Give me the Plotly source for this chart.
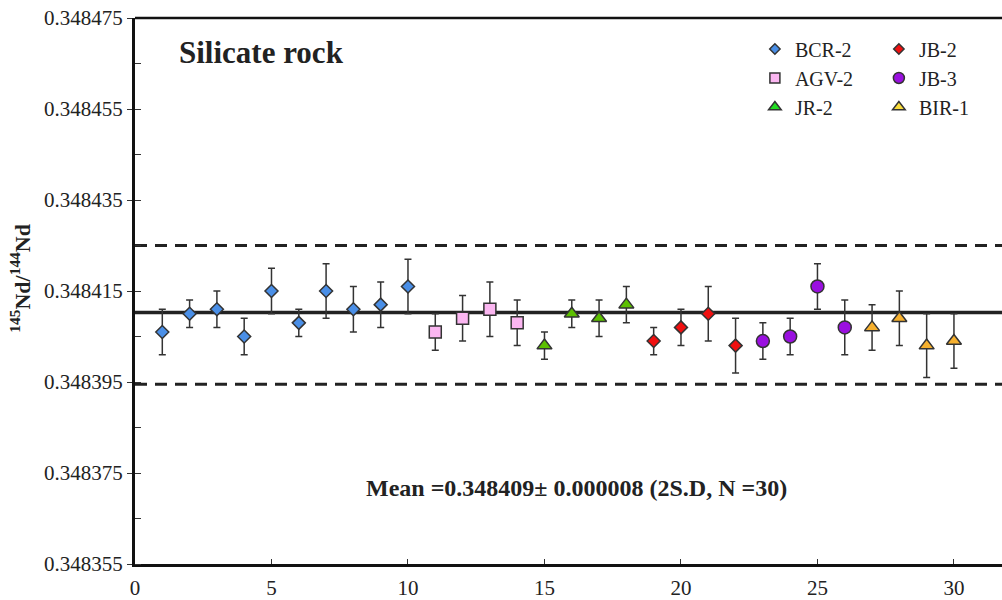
import plotly.graph_objects as go

# ---- data ----
bcr2_x = [1, 2, 3, 4, 5, 6, 7, 8, 9, 10]
bcr2_y = [0.348406, 0.348410, 0.348411, 0.348405, 0.348415, 0.348408, 0.348415, 0.348411, 0.348412, 0.348416]
bcr2_err = [5, 3, 4, 4, 5, 3, 6, 5, 5, 6]

agv2_x = [11, 12, 13, 14]
agv2_y = [0.348406, 0.348409, 0.348411, 0.348408]
agv2_err = [4, 5, 6, 5]

jr2_x = [15, 16, 17, 18]
jr2_y = [0.348403, 0.348410, 0.348409, 0.348412]
jr2_err = [3, 3, 4, 4]

jb2_x = [19, 20, 21, 22]
jb2_y = [0.348404, 0.348407, 0.348410, 0.348403]
jb2_err = [3, 4, 6, 6]

jb3_x = [23, 24, 25, 26]
jb3_y = [0.348404, 0.348405, 0.348416, 0.348407]
jb3_err = [4, 4, 5, 6]

bir1_x = [27, 28, 29, 30]
bir1_y = [0.348407, 0.348409, 0.348403, 0.348404]
bir1_err = [5, 6, 7, 6]

err_unit = 1e-6
mean_value = 0.3484103
upper_limit = 0.348425
lower_limit = 0.3483945

y_ticks = [0.348355, 0.348375, 0.348395, 0.348415, 0.348435, 0.348455, 0.348475]
x_ticks = [0, 5, 10, 15, 20, 25, 30]

SERIF = "Liberation Serif"
EDGE = "#333333"

series = [
    ("BCR-2", bcr2_x, bcr2_y, bcr2_err, "diamond", 10, "#4a8fe7", "#4a8fe7", 8, "legend"),
    ("AGV-2", agv2_x, agv2_y, agv2_err, "square", 12, "#fbb6f1", "#fbb6f1", 10, "legend"),
    ("JR-2", jr2_x, jr2_y, jr2_err, "triangle-up", 13, "#5cc000", "#22dd22", 11, "legend"),
    ("JB-2", jb2_x, jb2_y, jb2_err, "diamond", 10, "#f01010", "#f01010", 8, "legend2"),
    ("JB-3", jb3_x, jb3_y, jb3_err, "circle", 13, "#9a10e0", "#9a10e0", 11, "legend2"),
    ("BIR-1", bir1_x, bir1_y, bir1_err, "triangle-up", 13, "#f6b02e", "#f9dc3a", 11, "legend2"),
]

fig = go.Figure()

for name, xs, ys, errs, sym, size, color, lcolor, lsize, leg in series:
    fig.add_trace(go.Scatter(
        x=xs, y=ys, mode="markers", name=name, showlegend=False,
        marker=dict(symbol=sym, size=size, color=color, line=dict(color=EDGE, width=1.5)),
        error_y=dict(type="data", array=[e * err_unit for e in errs], color=EDGE,
                     thickness=1.5, width=3.5),
    ))

for name, xs, ys, errs, sym, size, color, lcolor, lsize, leg in series:
    fig.add_trace(go.Scatter(
        x=[None], y=[None], mode="markers", name=name, showlegend=True, legend=leg,
        legendgroup=name,
        marker=dict(symbol=sym, size=lsize, color=lcolor, line=dict(color=EDGE, width=1.5)),
    ))

# reference lines
fig.add_shape(type="line", xref="paper", x0=0, x1=1, yref="y", y0=mean_value, y1=mean_value,
              line=dict(color="#222222", width=3.5), layer="below")
for lim in (upper_limit, lower_limit):
    fig.add_shape(type="line", xref="paper", x0=0, x1=1, yref="y", y0=lim, y1=lim,
                  line=dict(color="#222222", width=3, dash="12px,8px"), layer="below")
# top frame line
fig.add_shape(type="line", xref="paper", yref="paper", x0=0, x1=1, y0=1, y1=1,
              line=dict(color="#111111", width=2.5))

fig.add_annotation(text="<b>Silicate rock</b>", xref="paper", yref="paper",
                   x=0.0484, y=0.937, xanchor="left", yanchor="middle", showarrow=False,
                   font=dict(family=SERIF, size=31, color="#222222"))
fig.add_annotation(text="<b>Mean =0.348409± 0.000008 (2S.D, N =30)</b>", xref="paper", yref="paper",
                   x=0.5098, y=0.139, xanchor="center", yanchor="middle", showarrow=False,
                   font=dict(family=SERIF, size=24, color="#222222"))
fig.add_annotation(text="<b><sup>145</sup>Nd/<sup>144</sup>Nd</b>", xref="paper", yref="paper",
                   x=-0.1326, y=0.5227, xanchor="center", yanchor="middle", showarrow=False,
                   textangle=-90, font=dict(family=SERIF, size=22, color="#222222"))

legend_common = dict(font=dict(family=SERIF, size=20, color="#222222"), bgcolor="rgba(0,0,0,0)",
                     borderwidth=0, xanchor="left", yanchor="top", tracegroupgap=0,
                     itemsizing="trace")

fig.update_layout(
    width=1002, height=600,
    margin=dict(l=135, r=0, t=18, b=31),
    plot_bgcolor="white", paper_bgcolor="white",
    font=dict(family=SERIF, color="#222222"),
    legend=dict(x=0.715, y=0.979, **legend_common),
    legend2=dict(x=0.858, y=0.979, **legend_common),
    xaxis=dict(range=[0, 31.76], tickvals=x_ticks, showgrid=False, zeroline=False,
               showline=True, linecolor="#111111", linewidth=3,
               ticks="inside", ticklen=5, tickwidth=1, tickcolor="#333333",
               tickfont=dict(family=SERIF, size=21, color="#222222"), ticklabelstandoff=3),
    yaxis=dict(range=[0.348355, 0.348475], tickvals=y_ticks, tickformat=".6f",
               showgrid=False, zeroline=False,
               showline=True, linecolor="#111111", linewidth=3,
               ticks="outside", ticklen=5, tickwidth=1, tickcolor="#333333",
               minor=dict(ticks="inside", ticklen=6, tickwidth=1, tickcolor="#333333",
                          dtick=0.00001, tick0=0.348355, showgrid=False),
               tickfont=dict(family=SERIF, size=21, color="#222222")),
)

fig.write_html("out.html")
